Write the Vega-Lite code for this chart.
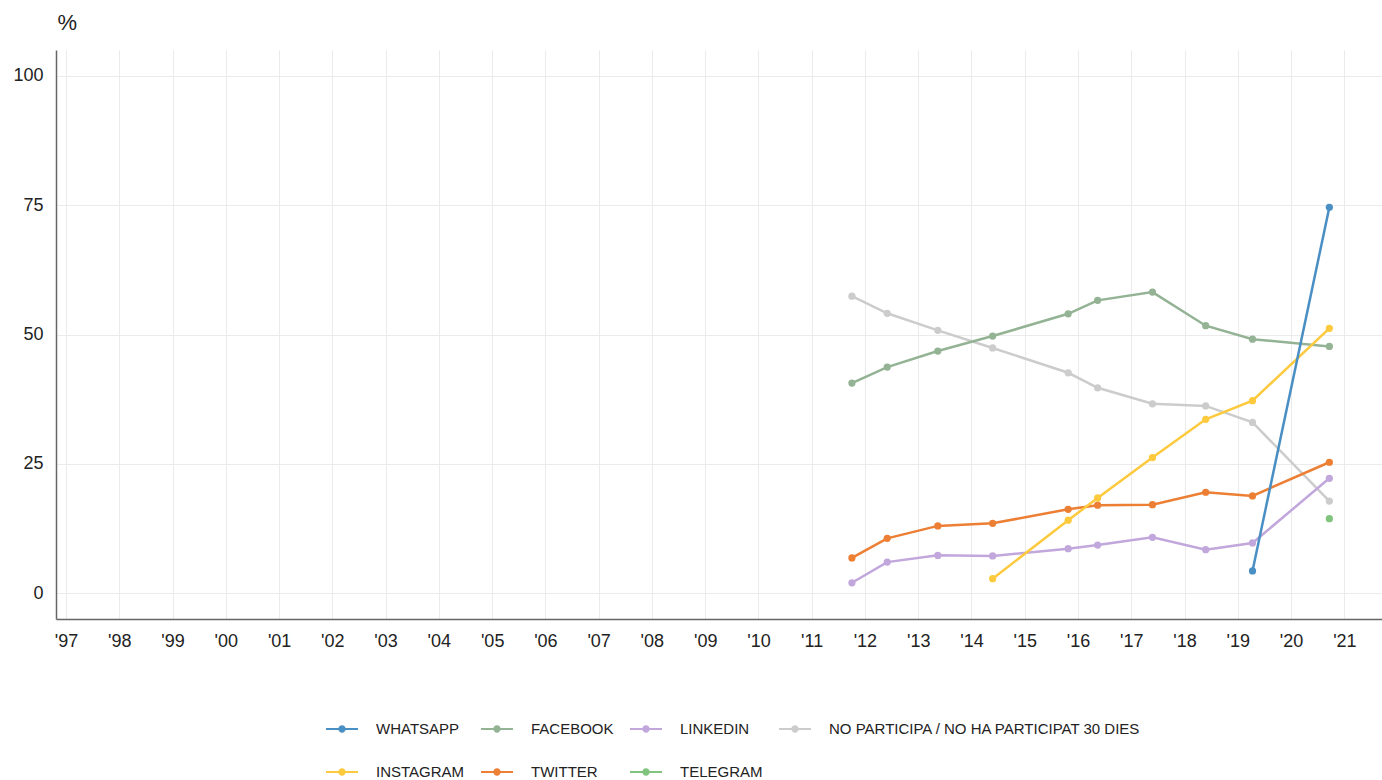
{
  "$schema": "https://vega.github.io/schema/vega-lite/v6.json",
  "width": 1326,
  "height": 569,
  "autosize": "none",
  "padding": {"left": 56, "top": 50, "right": 0, "bottom": 161},
  "background": "white",
  "config": {
    "font": "Liberation Sans",
    "view": {"stroke": null},
    "axis": {"labelFont": "Liberation Sans", "labelColor": "#222222", "titleFont": "Liberation Sans", "gridColor": "#ebebeb", "gridWidth": 1, "domainColor": "#666666", "domainWidth": 1.5, "ticks": false}
  },
  "data": {
    "values": [
      {"series": "NO PARTICIPA / NO HA PARTICIPAT 30 DIES", "date": "2011-10-04", "value": 57.4},
      {"series": "NO PARTICIPA / NO HA PARTICIPAT 30 DIES", "date": "2012-06-02", "value": 54.1},
      {"series": "NO PARTICIPA / NO HA PARTICIPAT 30 DIES", "date": "2013-05-15", "value": 50.8},
      {"series": "NO PARTICIPA / NO HA PARTICIPAT 30 DIES", "date": "2014-05-26", "value": 47.4},
      {"series": "NO PARTICIPA / NO HA PARTICIPAT 30 DIES", "date": "2015-10-26", "value": 42.6},
      {"series": "NO PARTICIPA / NO HA PARTICIPAT 30 DIES", "date": "2016-05-15", "value": 39.7},
      {"series": "NO PARTICIPA / NO HA PARTICIPAT 30 DIES", "date": "2017-05-26", "value": 36.6},
      {"series": "NO PARTICIPA / NO HA PARTICIPAT 30 DIES", "date": "2018-05-26", "value": 36.2},
      {"series": "NO PARTICIPA / NO HA PARTICIPAT 30 DIES", "date": "2019-04-12", "value": 33.0},
      {"series": "NO PARTICIPA / NO HA PARTICIPAT 30 DIES", "date": "2020-09-20", "value": 17.8},
      {"series": "FACEBOOK", "date": "2011-10-04", "value": 40.6},
      {"series": "FACEBOOK", "date": "2012-06-02", "value": 43.7},
      {"series": "FACEBOOK", "date": "2013-05-15", "value": 46.8},
      {"series": "FACEBOOK", "date": "2014-05-26", "value": 49.7},
      {"series": "FACEBOOK", "date": "2015-10-26", "value": 54.0},
      {"series": "FACEBOOK", "date": "2016-05-15", "value": 56.6},
      {"series": "FACEBOOK", "date": "2017-05-26", "value": 58.2},
      {"series": "FACEBOOK", "date": "2018-05-26", "value": 51.7},
      {"series": "FACEBOOK", "date": "2019-04-12", "value": 49.1},
      {"series": "FACEBOOK", "date": "2020-09-20", "value": 47.7},
      {"series": "LINKEDIN", "date": "2011-10-04", "value": 2.0},
      {"series": "LINKEDIN", "date": "2012-06-02", "value": 6.0},
      {"series": "LINKEDIN", "date": "2013-05-15", "value": 7.3},
      {"series": "LINKEDIN", "date": "2014-05-26", "value": 7.2},
      {"series": "LINKEDIN", "date": "2015-10-26", "value": 8.6},
      {"series": "LINKEDIN", "date": "2016-05-15", "value": 9.3},
      {"series": "LINKEDIN", "date": "2017-05-26", "value": 10.8},
      {"series": "LINKEDIN", "date": "2018-05-26", "value": 8.4},
      {"series": "LINKEDIN", "date": "2019-04-12", "value": 9.7},
      {"series": "LINKEDIN", "date": "2020-09-20", "value": 22.2},
      {"series": "TWITTER", "date": "2011-10-04", "value": 6.8},
      {"series": "TWITTER", "date": "2012-06-02", "value": 10.6},
      {"series": "TWITTER", "date": "2013-05-15", "value": 13.0},
      {"series": "TWITTER", "date": "2014-05-26", "value": 13.5},
      {"series": "TWITTER", "date": "2015-10-26", "value": 16.2},
      {"series": "TWITTER", "date": "2016-05-15", "value": 17.0},
      {"series": "TWITTER", "date": "2017-05-26", "value": 17.1},
      {"series": "TWITTER", "date": "2018-05-26", "value": 19.5},
      {"series": "TWITTER", "date": "2019-04-12", "value": 18.8},
      {"series": "TWITTER", "date": "2020-09-20", "value": 25.3},
      {"series": "INSTAGRAM", "date": "2014-05-26", "value": 2.8},
      {"series": "INSTAGRAM", "date": "2015-10-26", "value": 14.1},
      {"series": "INSTAGRAM", "date": "2016-05-15", "value": 18.4},
      {"series": "INSTAGRAM", "date": "2017-05-26", "value": 26.2},
      {"series": "INSTAGRAM", "date": "2018-05-26", "value": 33.6},
      {"series": "INSTAGRAM", "date": "2019-04-12", "value": 37.2},
      {"series": "INSTAGRAM", "date": "2020-09-20", "value": 51.2},
      {"series": "WHATSAPP", "date": "2019-04-12", "value": 4.3},
      {"series": "WHATSAPP", "date": "2020-09-20", "value": 74.6},
      {"series": "TELEGRAM", "date": "2020-09-20", "value": 14.4}
    ]
  },
  "encoding": {
    "x": {
      "field": "date", "type": "temporal",
      "scale": {"domain": ["1996-10-24", "2021-09-16"]},
      "axis": {"title": null, "format": "'%y", "tickCount": {"interval": "year", "step": 1}, "labelFontSize": 18, "labelPadding": 13, "labelAlign": "center", "labelFlush": false, "labelOverlap": false, "grid": true}
    },
    "y": {
      "field": "value", "type": "quantitative",
      "scale": {"domain": [-5, 105], "nice": false, "zero": false},
      "axis": {"title": "%", "titleAngle": 0, "titleAlign": "left", "titleBaseline": "alphabetic", "titleX": 1, "titleY": -21, "titleFontSize": 22, "titleFontWeight": "normal", "titleColor": "#222222", "values": [0, 25, 50, 75, 100], "labelFontSize": 18, "labelPadding": 13, "grid": true}
    },
    "color": {
      "field": "series", "type": "nominal",
      "scale": {
        "domain": ["WHATSAPP", "FACEBOOK", "LINKEDIN", "NO PARTICIPA / NO HA PARTICIPAT 30 DIES", "INSTAGRAM", "TWITTER", "TELEGRAM"],
        "range": ["#4a8fc4", "#93b394", "#c1a7db", "#cccccc", "#fdc93d", "#ec7f34", "#80c47e"]
      },
      "legend": {
        "title": null, "orient": "none", "legendX": 270, "legendY": 663, "direction": "horizontal", "columns": 4,
        "columnPadding": 16, "rowPadding": 19, "padding": 0,
        "symbolType": "M-1,-0.07H1V0.07H-1Z M-0.23,0A0.23,0.23,0,1,1,0.23,0A0.23,0.23,0,1,1,-0.23,0Z",
        "symbolSize": 1024, "symbolStrokeWidth": 0, "symbolOpacity": 1,
        "labelFontSize": 15, "labelFont": "Liberation Sans", "labelColor": "#222222", "labelOffset": 18, "labelLimit": 400,
        "encode": {"symbols": {"update": {"fill": {"scale": "color", "field": "value"}, "stroke": {"value": "transparent"}, "opacity": {"value": 1}}}}
      }
    }
  },
  "layer": [
    {"mark": {"type": "line", "strokeWidth": 2.5}},
    {"mark": {"type": "point", "filled": true, "size": 52, "opacity": 1}}
  ]
}
